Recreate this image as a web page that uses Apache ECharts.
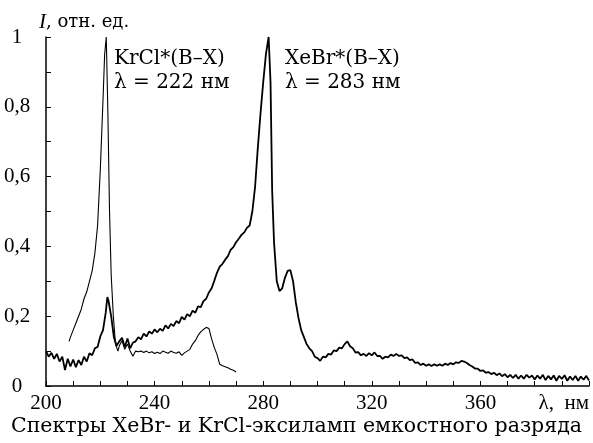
<!DOCTYPE html>
<html lang="ru">
<head>
    <meta charset="UTF-8">
    <title>Спектры XeBr- и KrCl-эксиламп</title>
    <script src="https://cdn.jsdelivr.net/npm/echarts@6/dist/echarts.min.js"></script>
    <style>
        body { margin: 0; background: #fff; }
    </style>
</head>
<body>
    <div id="main" style="width:593px;height:443px;"></div>
</body>
<script type="text/javascript">
    // спектр XeBr-лампы (жирная линия): [λ, нм ; I, отн. ед.]
    var xebr = [
        [200,0.1],[201,0.084],[202,0.095],[203,0.078],[204,0.092],[205,0.07],[206,0.084],[207,0.046],
        [208,0.078],[209,0.056],[210,0.076],[211,0.054],[212,0.074],[213,0.06],[214,0.084],[215,0.07],
        [216,0.094],[217,0.088],[218,0.108],[219,0.112],[220,0.142],[221,0.16],[222,0.21],[222.6,0.255],
        [223,0.245],[224,0.2],[225,0.14],[226,0.115],[227,0.128],[228,0.138],[229,0.112],[230,0.136],
        [231,0.108],[232,0.124],[233,0.128],[234,0.14],[235,0.134],[236,0.15],[237,0.142],[238,0.156],
        [239,0.15],[240,0.162],[241,0.154],[242,0.164],[243,0.158],[244,0.174],[245,0.165],[246,0.178],
        [247,0.172],[248,0.186],[249,0.18],[250,0.198],[251,0.19],[252,0.206],[253,0.2],[254,0.216],
        [255,0.21],[256,0.228],[257,0.226],[258,0.243],[259,0.25],[260,0.268],[261,0.28],[262,0.302],
        [263,0.325],[264,0.342],[265,0.35],[266,0.362],[267,0.372],[268,0.39],[269,0.398],[270,0.412],
        [271,0.422],[272,0.433],[273,0.44],[274,0.453],[275,0.46],[276,0.5],[277,0.57],[278,0.68],
        [279,0.78],[280,0.87],[281,0.95],[282,1.0],[282.7,0.87],[283.3,0.56],[284,0.41],[285,0.3],
        [286,0.272],[287,0.28],[288,0.31],[289,0.33],[290,0.332],[291,0.3],[292,0.24],[293,0.195],
        [294,0.16],[295,0.14],[296,0.12],[297,0.108],[298,0.1],[299,0.084],[300,0.08],[301,0.072],
        [302,0.084],[303,0.082],[304,0.092],[305,0.09],[306,0.102],[307,0.1],[308,0.11],[309,0.108],
        [310,0.12],[311,0.128],[312,0.114],[313,0.108],[314,0.096],[315,0.097],[316,0.088],[317,0.092],
        [318,0.086],[319,0.094],[320,0.088],[321,0.096],[322,0.086],[323,0.086],[324,0.078],[325,0.084],
        [326,0.082],[327,0.09],[328,0.086],[329,0.092],[330,0.086],[331,0.088],[332,0.08],[333,0.082],
        [334,0.074],[335,0.076],[336,0.066],[337,0.068],[338,0.06],[339,0.064],[340,0.058],[341,0.062],
        [342,0.057],[343,0.062],[344,0.058],[345,0.062],[346,0.058],[347,0.064],[348,0.06],[349,0.066],
        [350,0.062],[351,0.068],[352,0.066],[353,0.072],[354,0.07],[355,0.066],[356,0.06],[357,0.056],
        [358,0.05],[359,0.05],[360,0.043],[361,0.045],[362,0.038],[363,0.04],[364,0.034],[365,0.038],
        [366,0.031],[367,0.036],[368,0.028],[369,0.034],[370,0.025],[371,0.032],[372,0.023],[373,0.032],
        [374,0.021],[375,0.03],[376,0.021],[377,0.032],[378,0.024],[379,0.03],[380,0.019],[381,0.03],
        [382,0.021],[383,0.032],[384,0.017],[385,0.029],[386,0.019],[387,0.03],[388,0.015],[389,0.029],
        [390,0.02],[391,0.031],[392,0.015],[393,0.027],[394,0.017],[395,0.029],[396,0.015],[397,0.027],
        [398,0.018],[399,0.029],[400,0.016]
    ];

    // спектр KrCl-лампы (тонкая линия)
    var krcl = [
        [208.5,0.128],[209,0.14],[210,0.16],[211,0.18],[212,0.2],[213,0.22],[214,0.25],[215,0.27],
        [216,0.3],[217,0.33],[218,0.38],[219,0.46],[220,0.62],[221,0.82],[221.6,0.95],[222.2,1.0],
        [222.8,0.78],[223.4,0.5],[224,0.32],[224.8,0.2],[225.6,0.12],[226.5,0.1],[227,0.115],[228,0.13],
        [229,0.105],[230,0.12],[231,0.1],[232,0.085],[233,0.1],[234,0.098],[235,0.1],[236,0.096],
        [237,0.1],[238,0.095],[239,0.098],[240,0.093],[241,0.097],[242,0.093],[243,0.1],[244,0.097],
        [245,0.094],[246,0.1],[247,0.096],[248,0.094],[249,0.098],[250,0.088],[251,0.095],[252,0.1],
        [253,0.105],[254,0.12],[255,0.13],[256,0.145],[257,0.155],[258,0.162],[259,0.168],[259.6,0.171],
        [260,0.165],[261,0.135],[262,0.11],[263,0.09],[264,0.062],[265,0.058],[266,0.055],[267,0.052],
        [268,0.048],[269,0.045],[270,0.04]
    ];

    var xLabels = [200, 240, 280, 320, 360];
    var yLabels = [0, 0.2, 0.4, 0.6, 0.8, 1];

    var serif = '"Liberation Serif", "DejaVu Serif", serif';
    var wide = '"DejaVu Serif", serif';

    var myChart = echarts.init(document.getElementById('main'));

    option = {
        animation: false,
        backgroundColor: '#fff',
        grid: { left: 46, right: 4, top: 37, bottom: 57 },
        xAxis: {
            type: 'value',
            min: 200,
            max: 400,
            interval: 10,
            axisLine: { lineStyle: { color: '#000', width: 1.5 } },
            axisTick: { inside: true, length: 5, lineStyle: { color: '#000', width: 1 } },
            splitLine: { show: false },
            axisLabel: {
                color: '#000',
                fontFamily: serif,
                fontSize: 21,
                margin: 7,
                alignMaxLabel: 'right',
                formatter: function (v) {
                    if (v === 400) return 'λ,  нм';
                    return xLabels.indexOf(v) >= 0 ? String(v) : '';
                }
            }
        },
        yAxis: {
            type: 'value',
            min: 0,
            max: 1,
            interval: 0.1,
            axisLine: { show: true, lineStyle: { color: '#000', width: 1.5 } },
            axisTick: { show: true, inside: true, length: 5, lineStyle: { color: '#000', width: 1 } },
            splitLine: { show: false },
            axisLabel: {
                color: '#000',
                fontFamily: serif,
                fontSize: 21,
                align: 'center',
                margin: 29,
                formatter: function (v) {
                    var r = Math.round(v * 10) / 10;
                    for (var i = 0; i < yLabels.length; i++) {
                        if (Math.abs(yLabels[i] - r) < 1e-6) {
                            return String(r).replace('.', ',');
                        }
                    }
                    return '';
                }
            }
        },
        graphic: [
            {
                type: 'text', left: 39, top: 12,
                style: {
                    text: '{i|I}{n|, отн. ед.}',
                    rich: {
                        i: { fontFamily: serif, fontSize: 21, fontStyle: 'italic', fill: '#000' },
                        n: { fontFamily: wide, fontSize: 18, fill: '#000' }
                    }
                }
            },
            {
                type: 'text', left: 114, top: 47,
                style: { text: 'KrCl*(B–X)\nλ = 222 нм', font: '20px ' + wide, fill: '#000', lineHeight: 24 }
            },
            {
                type: 'text', left: 285, top: 47,
                style: { text: 'XeBr*(B–X)\nλ = 283 нм', font: '20px ' + wide, fill: '#000', lineHeight: 24 }
            },
            {
                type: 'text', left: 'center', top: 416,
                style: { text: 'Спектры XeBr- и KrCl-эксиламп емкостного разряда', font: '20.5px ' + wide, fill: '#000' }
            }
        ],
        series: [
            {
                name: 'XeBr',
                type: 'line',
                data: xebr,
                showSymbol: false,
                lineStyle: { color: '#000', width: 1.8 }
            },
            {
                name: 'KrCl',
                type: 'line',
                data: krcl,
                showSymbol: false,
                lineStyle: { color: '#000', width: 1.1 }
            }
        ]
    };

    myChart.setOption(option);
</script>
</html>
